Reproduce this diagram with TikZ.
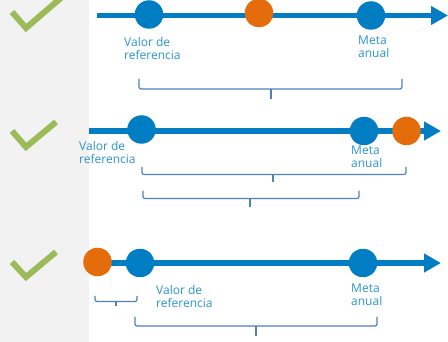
\documentclass[tikz,border=0pt]{standalone}
\usepackage{fontspec}
\setmainfont{Open Sans}
\usetikzlibrary{arrows.meta}
\definecolor{axisblue}{RGB}{0,125,195}
\definecolor{labblue}{RGB}{45,148,212}
\definecolor{dotorange}{RGB}{228,108,10}
\definecolor{checkgreen}{RGB}{155,187,89}
\definecolor{panelgray}{RGB}{242,242,242}
\definecolor{bracecol}{RGB}{79,129,189}
\tikzset{
  axis/.style={draw=axisblue, line width=5.5pt, -{Triangle[length=17pt,width=18pt]}},
  bluedot/.style={circle, fill=axisblue, minimum size=28.5pt, inner sep=0pt},
  orangedot/.style={circle, fill=dotorange, minimum size=28.5pt, inner sep=0pt},
  lab/.style={font=\fontsize{12}{13.2}\selectfont, text=labblue, inner sep=0pt, align=left, anchor=base west},
  brace/.style={draw=bracecol, line width=1.2pt, rounded corners=2pt},
  tick/.style={draw=bracecol, line width=1.2pt},
  checkmark/.style={draw=checkgreen, line width=6pt}
}
\begin{document}
\begin{tikzpicture}[x=1pt,y=-1pt]
\useasboundingbox (0,0) rectangle (448,342);
\fill[white] (0,0) rectangle (448,342);
\fill[panelgray] (0,0) rectangle (89,342);
\begin{scope}
\clip (0,0) rectangle (448,342);
% checkmarks
\coordinate (c1a) at (12,12); \coordinate (c1b) at (26,28); \coordinate (c1c) at (62,-3);
\draw[checkmark] (c1a) -- (c1b) -- (c1c);
\coordinate (c2a) at (12,131); \coordinate (c2b) at (26,147); \coordinate (c2c) at (56,122);
\draw[checkmark] (c2a) -- (c2b) -- (c2c);
\coordinate (c3a) at (12,262); \coordinate (c3b) at (26,277); \coordinate (c3c) at (56,252);
\draw[checkmark] (c3a) -- (c3b) -- (c3c);
\end{scope}

% ---------- Row 1 ----------
\coordinate (s1) at (97,15.5);
\coordinate (e1) at (448,15.5);
\draw[axis] (s1) -- (e1);
\node[bluedot] (r1) at (149,14.5) {};
\node[orangedot] (o1) at (259,13) {};
\node[bluedot] (m1) at (371,15.5) {};
\node[lab] (lr1) at (124,60) {Valor de\\referencia};
\node[lab] (lm1) at (358,58) {Meta\\anual};
\coordinate (b1lt) at (139,79); \coordinate (b1lb) at (139,89);
\coordinate (b1rb) at (402,89); \coordinate (b1rt) at (402,79);
\coordinate (b1m) at (271,89); \coordinate (b1t) at (271,99);
\draw[brace] (b1lt) -- (b1lb) -- (b1rb) -- (b1rt);
\draw[tick] (b1m) -- (b1t);

% ---------- Row 2 ----------
\coordinate (s2) at (89,131);
\coordinate (e2) at (441,131);
\draw[axis] (s2) -- (e2);
\node[bluedot] (r2) at (141.5,129.5) {};
\node[bluedot] (m2) at (364,131) {};
\node[orangedot] (o2) at (406.5,131) {};
\node[lab] (lr2) at (79,163.5) {Valor de\\referencia};
\node[lab] (lm2) at (351,168) {Meta\\anual};
\coordinate (b2lt) at (142,167); \coordinate (b2lb) at (142,174.5);
\coordinate (b2rb) at (406,174.5); \coordinate (b2rt) at (406,167);
\coordinate (b2m) at (273,174.5); \coordinate (b2t) at (273,182);
\draw[brace] (b2lt) -- (b2lb) -- (b2rb) -- (b2rt);
\draw[tick] (b2m) -- (b2t);
\coordinate (b3lt) at (143,191); \coordinate (b3lb) at (143,198.5);
\coordinate (b3rb) at (359,198.5); \coordinate (b3rt) at (359,191);
\coordinate (b3m) at (250,198.5); \coordinate (b3t) at (250,207);
\draw[brace] (b3lt) -- (b3lb) -- (b3rb) -- (b3rt);
\draw[tick] (b3m) -- (b3t);

% ---------- Row 3 ----------
\coordinate (s3) at (97.5,263);
\coordinate (e3) at (441,263);
\draw[axis] (s3) -- (e3);
\node[orangedot] (o3) at (97.5,262) {};
\node[bluedot] (r3) at (140,263) {};
\node[bluedot] (m3) at (363,263) {};
\node[lab] (lr3) at (156,308) {Valor de\\referencia};
\node[lab] (lm3) at (351,306) {Meta\\anual};
\coordinate (b4lt) at (95,296); \coordinate (b4lb) at (95,301.5);
\coordinate (b4rb) at (137,301.5); \coordinate (b4rt) at (137,296);
\coordinate (b4m) at (116,301.5); \coordinate (b4t) at (116,306);
\draw[brace] (b4lt) -- (b4lb) -- (b4rb) -- (b4rt);
\draw[tick] (b4m) -- (b4t);
\coordinate (b5lt) at (135,317); \coordinate (b5lb) at (135,326);
\coordinate (b5rb) at (377,326); \coordinate (b5rt) at (377,317);
\coordinate (b5m) at (256,326); \coordinate (b5t) at (256,336);
\draw[brace] (b5lt) -- (b5lb) -- (b5rb) -- (b5rt);
\draw[tick] (b5m) -- (b5t);
\end{tikzpicture}
\end{document}
